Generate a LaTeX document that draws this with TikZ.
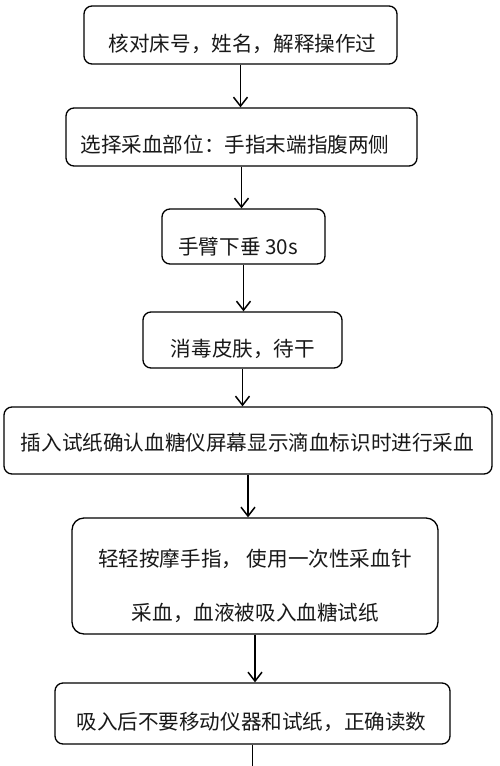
\documentclass[tikz,border=0pt]{standalone}
\usepackage{fontspec}
\newfontfamily\cjk{Noto Sans CJK SC}
\usetikzlibrary{arrows.meta}
\begin{document}
\begin{tikzpicture}[x=1pt,y=-1pt,
  box/.style={draw=black,line width=1.3pt,rounded corners=8pt,inner sep=0pt,fill=white},
  txt/.style={anchor=base,inner sep=0pt,font=\cjk\fontsize{20.6}{24}\selectfont,text=black!90},
  conn/.style={line width=1.8pt,-{Straight Barb[length=9pt,width=14pt,line width=1.5pt]}},
  stub/.style={line width=1.8pt}]
\useasboundingbox[fill=white] (0,0) rectangle (500,766);
\node[box,minimum width=313pt,minimum height=58pt] (b1) at (240.5,35) {};
\node[box,minimum width=351pt,minimum height=58pt] (b2) at (241.5,137) {};
\node[box,minimum width=163pt,minimum height=55pt] (b3) at (243.5,236.5) {};
\node[box,minimum width=199pt,minimum height=56pt] (b4) at (242.5,340) {};
\node[box,minimum width=488pt,minimum height=67pt] (b5) at (248,440.5) {};
\node[box,minimum width=366pt,minimum height=116pt,rounded corners=12pt] (b6) at (255,576) {};
\node[box,minimum width=395pt,minimum height=61pt] (b7) at (252.5,713.5) {};
\node[txt] (t1) at (242.5,51.8) {核对床号，姓名，解释操作过};
\node[txt] (t2) at (235,152.8) {选择采血部位：手指末端指腹两侧};
\node[txt] (t3) at (238,254.8) {手臂下垂 30s};
\node[txt] (t4) at (243,356.8) {消毒皮肤，待干};
\node[txt] (t5) at (247.5,450.8) {插入试纸确认血糖仪屏幕显示滴血标识时进行采血};
\node[txt] (t6a) at (255,566.8) {轻轻按摩手指， 使用一次性采血针};
\node[txt] (t6b) at (255.5,620.8) {采血，血液被吸入血糖试纸};
\node[txt] (t7) at (251.5,729.8) {吸入后不要移动仪器和试纸，正确读数};
\coordinate (end) at (252,770);
\draw[conn] (b1.south) -- (b1.south |- b2.north);
\draw[conn] (b2.south) -- (b2.south |- b3.north);
\draw[conn] (b3.south) -- (b3.south |- b4.north);
\draw[conn] (b4.south) -- (b4.south |- b5.north);
\draw[conn] (b5.south) -- (b5.south |- b6.north);
\draw[conn] (b6.south) -- (b6.south |- b7.north);
\draw[stub] (b7.south) -- (b7.south |- end);
\end{tikzpicture}
\end{document}
